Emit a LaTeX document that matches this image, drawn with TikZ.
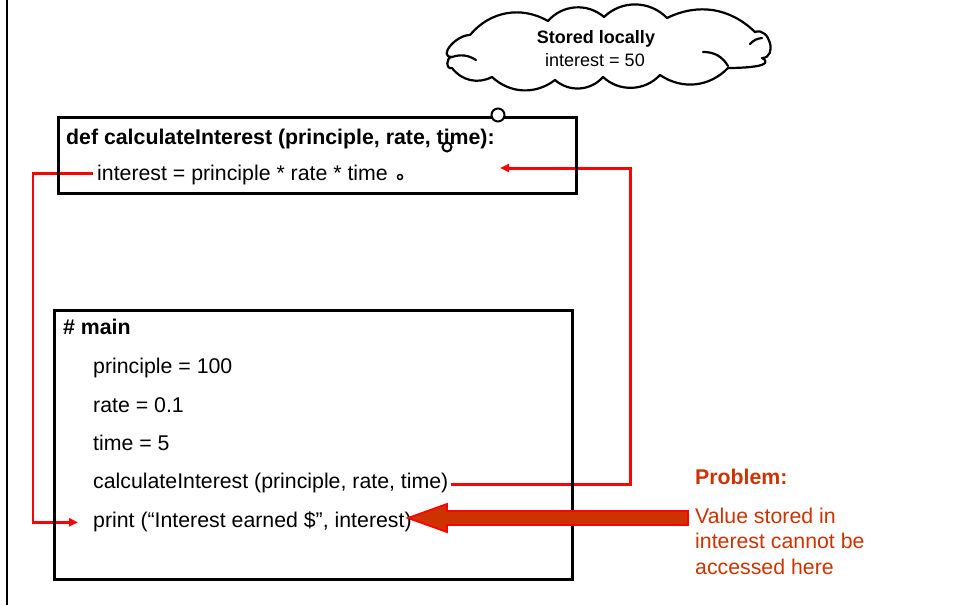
\documentclass[tikz,border=0pt]{standalone}
\usepackage{fontspec}
\setmainfont{Liberation Sans}
\usetikzlibrary{arrows.meta,calc}
\definecolor{probc}{HTML}{CC3300}
\begin{document}
\begin{tikzpicture}[x=1pt,y=-1pt,
  txt/.style={anchor=base west,inner sep=0pt,font=\fontsize{21.3}{25.5}\selectfont},
  btxt/.style={anchor=base west,inner sep=0pt,font=\fontsize{21.3}{25.5}\selectfont\bfseries},
  ptxt/.style={anchor=base west,inner sep=0pt,text=probc,font=\fontsize{21.3}{25.5}\selectfont},
  codebox/.style={draw,line width=2.6pt,anchor=north west,inner sep=0pt},
  redln/.style={draw=red,line width=3pt,-{Triangle[length=9pt,width=8pt]}},
  bubble/.style={circle,draw,fill=white,line width=2pt,inner sep=0pt},
  cloudline/.style={line width=2.2pt,line join=round,line cap=round}
]
\useasboundingbox (0,0) rectangle (954,605);
% page edge line
\draw[line width=2.4pt] (7,0) -- (7,605);

% function text
\node[btxt] (defl) at (66,144) {def calculateInterest (principle, rate, time):};
\node[txt] (intl) at (97,180) {interest = principle * rate * time};

% main text
\node[btxt] (mainl) at (63,334) {\# main};
\node[txt] (pl) at (93,373) {principle = 100};
\node[txt] (rl) at (93,412) {rate = 0.1};
\node[txt] (tl) at (93,450) {time = 5};
\node[txt] (cl) at (93,488) {calculateInterest (principle, rate, time)};
\node[txt] (prl) at (93,527) {print (“Interest earned \$”, interest)};

% red connectors
\coordinate (lx) at (33,0);
\coordinate (rx) at (630,0);
\coordinate (ret) at (500,168);
\draw[redln,line width=2.5pt] ([xshift=-4pt,yshift=1pt]intl.west) -- ([yshift=1pt]intl.west -| lx) |- ([xshift=-15pt,yshift=-1pt]prl.west);
\draw[redln] ([xshift=2pt,yshift=-2pt]cl.east) -- ([yshift=-2pt]cl.east -| rx) |- (ret);

% boxes
\node[codebox,minimum width=518pt,minimum height=76pt] (fbox) at (57,116) {};
\node[codebox,minimum width=518pt,minimum height=269pt] (mbox) at (53,309) {};

% big arrow
\coordinate (atail) at (688,518);
\coordinate (atip) at (408,518);
\draw[draw=red,fill=probc,line width=1.8pt]
  ($(atail)+(0,-7)$) -- ($(atip)+(39,-7)$) -- ($(atip)+(39,-14)$) -- (atip)
  -- ($(atip)+(39,14)$) -- ($(atip)+(39,7)$) -- ($(atail)+(0,7)$) -- cycle;

% problem text
\node[ptxt,font=\fontsize{21.3}{25.5}\selectfont\bfseries] (prob) at (695,484) {Problem:};
\node[ptxt] (v1) at (695,523) {Value stored in};
\node[ptxt] (v2) at (695,548) {interest cannot be};
\node[ptxt] (v3) at (695,574) {accessed here};

% cloud callout
\coordinate (cld) at (607,45);
\draw[cloudline,fill=white]
  (470,35) to[bend left=40] (548,21)
  to[bend left=45] (604,17)
  to[bend left=45] (667,18)
  to[bend left=35] (755,32)
  to[out=20,in=0,looseness=1.5] (762,58)
  to[out=-30,in=0,looseness=1.2] (728,68)
  to[bend left=40] (660,75)
  to[bend left=45] (603,77)
  to[bend left=45] (555,80)
  to[bend left=40] (492,77)
  to[bend left=40] (452,68)
  to[out=200,in=180,looseness=1.5] (452,57)
  to[out=180,in=180,looseness=1.3] (470,35);
\draw[cloudline] (452,57) to[bend left=25] (476,60);
\draw[cloudline] (750,44) to[bend left=20] (762,38);
\draw[cloudline] (703,52) to[bend left=30] (728,66);
\node[anchor=base,inner sep=0pt,font=\fontsize{18}{21}\selectfont\bfseries] (c1) at (596,43) {Stored locally};
\node[anchor=base,inner sep=0pt,font=\fontsize{18}{21}\selectfont] (c2) at (595,66) {interest = 50};
\node[bubble,minimum size=13pt] (b1) at (498,115) {};
\node[bubble,minimum size=9pt] (b2) at (447,147) {};
\node[bubble,minimum size=5pt,line width=1.5pt] (b3) at (400,177) {};
\end{tikzpicture}
\end{document}
